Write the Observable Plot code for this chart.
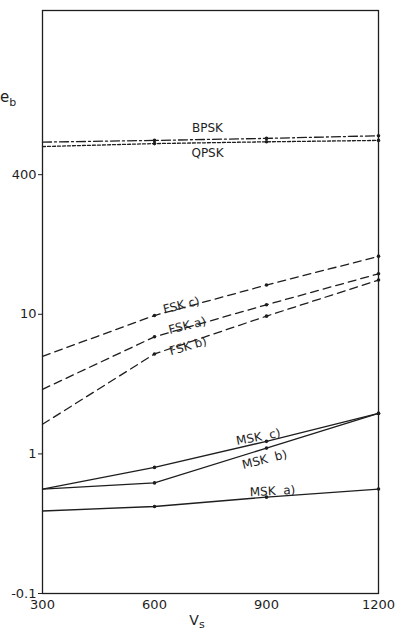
<!DOCTYPE html>
<html>
<head>
<meta charset="utf-8">
<script src="https://cdn.jsdelivr.net/npm/d3@7"></script>
<script src="https://cdn.jsdelivr.net/npm/@observablehq/plot@0.6"></script>
<style>
  html, body { margin: 0; padding: 0; background: #fff; }
</style>
</head>
<body>
<div id="chart"></div>
<script>
// ---- data ----
const vs = [300, 600, 900, 1200];
const bpsk = [171, 176, 182, 190];
const qpsk = [159, 167, 172, 176];
const fskA = [2.9, 6.9, 11.7, 19.5];
const fskB = [1.63, 5.2, 9.7, 17.6];
const fskC = [5.0, 9.8, 16.2, 26];
const mskA = [0.39, 0.42, 0.49, 0.56];
const mskB = [0.56, 0.62, 1.1, 1.95];
const mskC = [0.56, 0.80, 1.23, 1.95];

const xTicks = [300, 600, 900, 1200];
const yTicks = [0.1, 1, 10, 100];
const yTickLabels = ["-0.1", "1", "10", "400"];

// curve labels (anchored in data space)
const labelText = ["BPSK", "QPSK", "FSK c)", "FSK a)", "FSK b)", "MSK  c)", "MSK  b)", "MSK  a)"];
const labelVs = [742, 742, 672, 688, 690, 878, 895, 916];
const labelEb = [214, 143, 11.6, 8.3, 5.9, 1.32, 0.91, 0.54];
const labelAngle = [0, 0, -14, -14, -16, -11, -14, -3];

// ---- build ----
const ink = "#1e1e1e";
function rows(vals) { return vs.map((v, i) => ({x: v, y: vals[i]})); }
function dotsFrom(vals) { return rows(vals).slice(1); }

const series = [
  {vals: bpsk, dash: "9,3,2,3"},
  {vals: qpsk, dash: "3,2"},
  {vals: fskA, dash: "8,5"},
  {vals: fskB, dash: "8,5"},
  {vals: fskC, dash: "8,5"},
  {vals: mskA, dash: null},
  {vals: mskB, dash: null},
  {vals: mskC, dash: null}
];

const labels = labelText.map((t, i) => ({t, x: labelVs[i], y: labelEb[i], a: labelAngle[i]}));

const marks = [
  Plot.frame({stroke: ink, strokeWidth: 1.3})
];
series.forEach(s => {
  marks.push(Plot.line(rows(s.vals), {x: "x", y: "y", stroke: ink, strokeWidth: 1.3, strokeDasharray: s.dash || undefined}));
  marks.push(Plot.dot(dotsFrom(s.vals), {x: "x", y: "y", r: 1.8, fill: ink, stroke: "none"}));
});
labels.forEach(l => {
  marks.push(Plot.text([l], {x: "x", y: "y", text: "t", rotate: l.a, fill: ink, fontSize: 12, textAnchor: "middle"}));
});
marks.push(Plot.axisY({ticks: yTicks, tickFormat: d => yTickLabels[yTicks.indexOf(d)], tickSize: 4, tickPadding: 2, label: null, fontSize: 13, stroke: ink, fill: ink}));
marks.push(Plot.axisX({ticks: xTicks, tickFormat: d => String(d), tickSize: 0, tickPadding: 6, label: null, fontSize: 13, fill: ink}));

const chart = Plot.plot({
  width: 399,
  height: 631,
  marginLeft: 42,
  marginRight: 21,
  marginTop: 10,
  marginBottom: 38,
  style: {fontFamily: "DejaVu Sans, sans-serif", background: "#fff", color: ink},
  x: {domain: [300, 1200]},
  y: {type: "log", domain: [0.1, 1500]},
  marks
});

const svg = d3.select(chart);
// axis titles with subscripts
const eb = svg.append("text").attr("x", 8).attr("y", 102).attr("fill", ink)
  .style("font-size", "15px").style("font-family", "DejaVu Sans, sans-serif");
eb.append("tspan").text("e");
eb.append("tspan").attr("dy", 4).style("font-size", "11px").text("b");
const vlab = svg.append("text").attr("x", 197).attr("y", 625).attr("fill", ink)
  .style("font-size", "14px").style("font-family", "DejaVu Sans, sans-serif");
vlab.append("tspan").text("V");
vlab.append("tspan").attr("dy", 3).style("font-size", "11px").text("s");

document.getElementById("chart").appendChild(chart);
</script>
</body>
</html>
